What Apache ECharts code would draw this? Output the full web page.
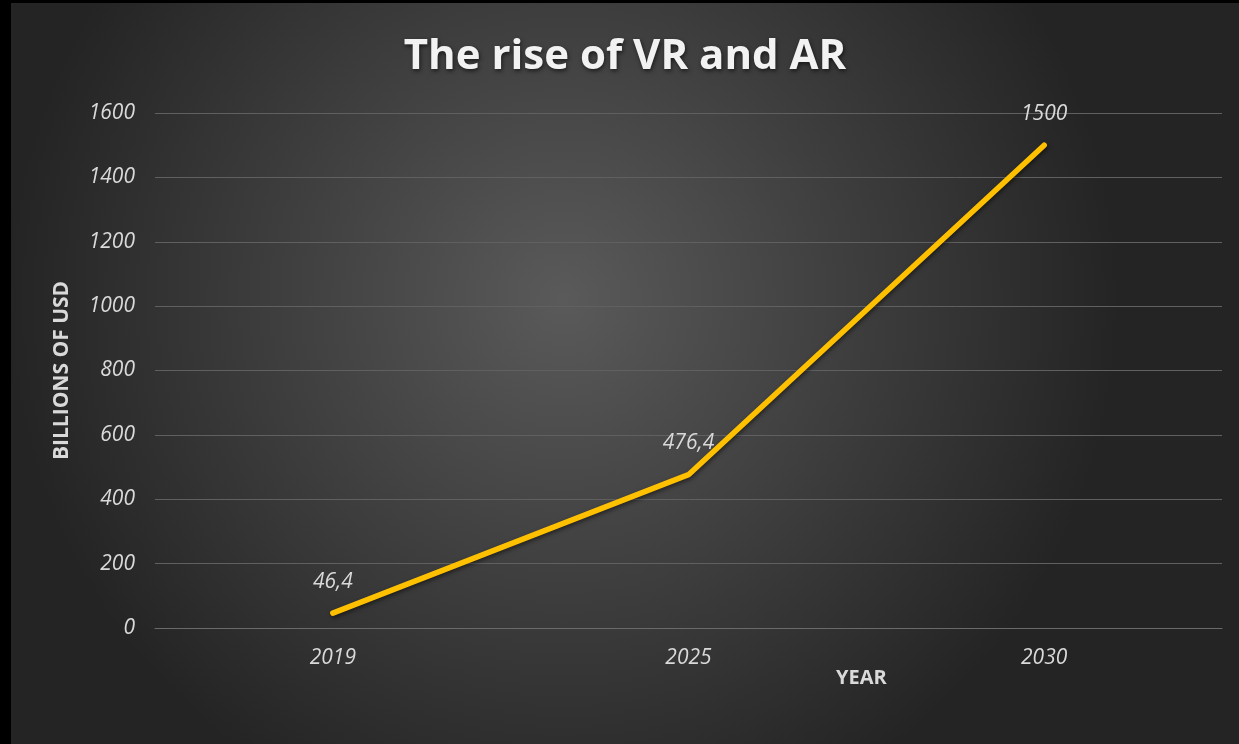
<!DOCTYPE html>
<html>
<head>
<meta charset="utf-8">
<script src="https://cdn.jsdelivr.net/npm/echarts@6/dist/echarts.min.js"></script>
<style>
html,body{margin:0;padding:0;background:#000;width:1239px;height:744px;overflow:hidden;}
#chart{position:absolute;left:11px;top:3px;width:1228px;height:741px;}
</style>
</head>
<body>
<div id="chart"></div>
<script>
const categories = ['2019', '2025', '2030'];
const marketValues = [46.4, 476.4, 1500];
const titleText = 'The rise of VR and AR';
const yAxisName = 'BILLIONS OF USD';
const xAxisName = 'YEAR';

const chart = echarts.init(document.getElementById('chart'), null, {renderer: 'canvas'});
const labelFont = '"Open Sans", "PT Sans", Lato, sans-serif';
chart.setOption({
  backgroundColor: {
    type: 'radial', x: 0.45, y: 0.4, r: 0.75,
    colorStops: [{offset: 0, color: '#5a5a5a'}, {offset: 1, color: '#242424'}]
  },
  title: {
    text: titleText,
    left: 'center', top: 28,
    textStyle: {
      color: '#f2f2f2', fontSize: 42, fontWeight: 'bold', fontFamily: labelFont,
      textShadowColor: 'rgba(0,0,0,0.6)', textShadowBlur: 4, textShadowOffsetX: 1, textShadowOffsetY: 2
    }
  },
  grid: {left: 144, right: 17, top: 110, bottom: 116, containLabel: false},
  xAxis: {
    type: 'category', data: categories, boundaryGap: true,
    axisLine: {show: true, lineStyle: {color: '#6a6a6a', width: 1}},
    axisTick: {show: false},
    axisLabel: {color: '#d9d9d9', fontSize: 21, fontStyle: 'italic', fontFamily: labelFont, margin: 20}
  },
  yAxis: {
    type: 'value', min: 0, max: 1600, interval: 200,
    name: yAxisName, nameLocation: 'middle', nameGap: 82, nameRotate: 90,
    nameTextStyle: {color: '#d9d9d9', fontSize: 21, fontWeight: 'bold', fontFamily: labelFont},
    axisLine: {show: false}, axisTick: {show: false},
    splitLine: {lineStyle: {color: '#606060', width: 1}},
    axisLabel: {color: '#d9d9d9', fontSize: 21, fontStyle: 'italic', fontFamily: labelFont, margin: 20,
      formatter: v => String(v)}
  },
  graphic: [{
    type: 'text', left: 825, top: 665,
    style: {text: xAxisName, fill: '#d9d9d9', font: 'bold 20px ' + labelFont}
  }],
  series: [{
    type: 'line', data: marketValues,
    symbol: 'circle', symbolSize: 2, showSymbol: true,
    itemStyle: {color: 'rgba(0,0,0,0)', borderWidth: 0},
    smooth: false,
    lineStyle: {color: '#FFC000', width: 5.5, cap: 'round', join: 'round',
      shadowColor: 'rgba(0,0,0,0.5)', shadowBlur: 4, shadowOffsetX: 1, shadowOffsetY: 2},
    label: {
      show: true, position: 'top', distance: 20,
      color: '#d9d9d9', fontSize: 21, fontStyle: 'italic', fontFamily: labelFont,
      formatter: p => String(p.value).replace('.', ',')
    },
    emphasis: {disabled: true}
  }],
  animation: false
});
</script>
</body>
</html>
